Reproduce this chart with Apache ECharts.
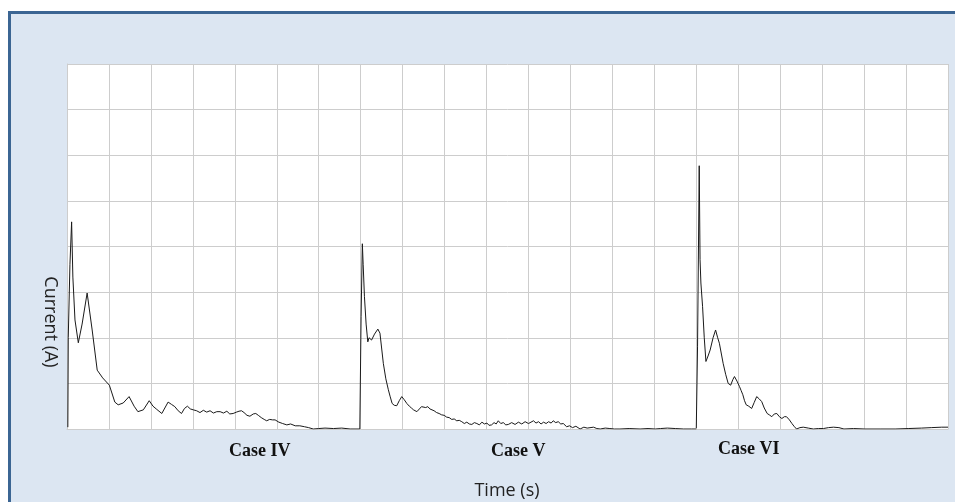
<!DOCTYPE html>
<html>
<head>
<meta charset="utf-8">
<script src="https://cdn.jsdelivr.net/npm/echarts@6/dist/echarts.min.js"></script>
<style>
  html, body { margin: 0; padding: 0; background: #fff; }
  #frame {
    position: absolute; left: 8px; top: 11px; width: 960px; height: 500px;
    background: #dce6f2; border-left: 3px solid #3b6593; border-top: 3px solid #3b6593;
  }
  #main { position: absolute; left: 0; top: 0; width: 955px; height: 502px; }
</style>
</head>
<body>
<div id="frame"></div>
<div id="main"></div>
<script>
// time (grid units) / current pairs
var caseIV = [
  [0.02,0.04],[0.03,2.0],[0.07,3.6],[0.11,4.54],[0.14,3.33],[0.19,2.39],[0.27,1.89],[0.36,2.3],
  [0.48,2.98],[0.60,2.17],[0.72,1.29],[0.85,1.12],[1.01,0.96],[1.14,0.59],[1.22,0.53],[1.34,0.57],
  [1.48,0.71],[1.60,0.50],[1.69,0.38],[1.82,0.42],[1.96,0.62],[2.05,0.50],[2.14,0.43],[2.26,0.34],
  [2.41,0.59],[2.49,0.54],[2.57,0.49],[2.65,0.40],[2.73,0.34],[2.80,0.45],[2.87,0.50],[2.94,0.44],
  [3.01,0.42],[3.09,0.40],[3.17,0.36],[3.25,0.41],[3.33,0.37],[3.41,0.40],[3.49,0.35],[3.57,0.38],
  [3.65,0.38],[3.73,0.35],[3.81,0.39],[3.88,0.33],[3.96,0.34],[4.04,0.37],[4.10,0.39],[4.16,0.40],
  [4.22,0.36],[4.29,0.30],[4.36,0.28],[4.44,0.33],[4.50,0.34],[4.56,0.30],[4.63,0.25],[4.70,0.21],
  [4.76,0.18],[4.83,0.21],[4.90,0.20],[4.96,0.20],[5.05,0.15],[5.14,0.12],[5.24,0.09],[5.33,0.11],
  [5.44,0.07],[5.55,0.07],[5.66,0.05],[5.76,0.03],[5.87,0.0],[6.00,0.01],[6.15,0.02],[6.35,0.01],
  [6.55,0.02],[6.75,0.0],[6.98,0.0]
];
var caseV = [
  [6.98,0.0],[7.00,0.0],[7.01,2.46],[7.04,4.06],[7.06,3.6],[7.09,2.90],[7.13,2.3],[7.17,1.91],
  [7.20,2.0],[7.22,2.02],[7.26,1.95],[7.30,1.99],[7.33,2.08],[7.36,2.06],[7.41,2.19],[7.46,2.10],
  [7.54,1.44],[7.60,1.1],[7.66,0.86],[7.70,0.72],[7.75,0.56],[7.80,0.52],[7.86,0.51],[7.92,0.62],
  [7.98,0.71],[8.04,0.64],[8.10,0.56],[8.16,0.50],[8.21,0.46],[8.26,0.42],[8.30,0.44],[8.34,0.38],
  [8.40,0.44],[8.45,0.49],[8.49,0.51],[8.55,0.47],[8.60,0.49],[8.65,0.44],[8.69,0.42],[8.75,0.40],
  [8.81,0.36],[8.87,0.34],[8.93,0.31],[8.99,0.30],[9.05,0.26],[9.11,0.25],[9.17,0.21],[9.23,0.22],
  [9.29,0.18],[9.35,0.19],[9.41,0.16],[9.47,0.12],[9.53,0.15],[9.59,0.11],[9.65,0.10],[9.71,0.14],
  [9.77,0.12],[9.83,0.09],[9.89,0.15],[9.95,0.11],[10.01,0.13],[10.06,0.08],[10.12,0.09],[10.18,0.14],
  [10.23,0.11],[10.28,0.18],[10.34,0.12],[10.40,0.14],[10.46,0.09],[10.52,0.10],[10.60,0.14],[10.68,0.10],
  [10.76,0.15],[10.84,0.11],[10.92,0.16],[11.00,0.12],[11.06,0.15],[11.12,0.18],[11.18,0.13],[11.24,0.16],
  [11.30,0.11],[11.36,0.15],[11.42,0.12],[11.48,0.16],[11.54,0.13],[11.59,0.18],[11.65,0.14],[11.71,0.16],
  [11.77,0.11],[11.83,0.12],[11.91,0.05],[11.98,0.07],[12.05,0.03],[12.13,0.06],[12.23,0.0],[12.32,0.04],
  [12.40,0.02],[12.55,0.04],[12.63,0.01],[12.71,0.0],[12.83,0.02],[12.94,0.01],[13.05,0.0],[13.18,0.0],
  [13.40,0.01],[13.66,0.0],[13.85,0.01],[14.02,0.0],[14.15,0.01],[14.31,0.02],[14.50,0.01],[14.70,0.0],
  [14.89,0.0],[15.00,0.0]
];
var caseVI = [
  [15.00,0.02],[15.02,0.03],[15.03,1.80],[15.07,5.77],[15.09,3.71],[15.11,3.20],[15.15,2.68],[15.19,2.0],
  [15.23,1.48],[15.28,1.60],[15.33,1.73],[15.40,2.0],[15.46,2.17],[15.51,2.0],[15.55,1.88],[15.64,1.44],
  [15.70,1.2],[15.76,1.0],[15.82,0.96],[15.87,1.08],[15.91,1.15],[15.97,1.05],[16.03,0.93],[16.07,0.84],
  [16.11,0.75],[16.15,0.62],[16.19,0.53],[16.25,0.50],[16.32,0.45],[16.38,0.58],[16.44,0.71],[16.50,0.66],
  [16.56,0.60],[16.62,0.46],[16.69,0.34],[16.74,0.31],[16.80,0.27],[16.86,0.33],[16.92,0.34],[16.98,0.27],
  [17.04,0.23],[17.10,0.27],[17.15,0.27],[17.22,0.20],[17.28,0.12],[17.33,0.06],[17.39,0.0],[17.47,0.03],
  [17.55,0.04],[17.67,0.02],[17.79,0.0],[17.91,0.01],[18.03,0.01],[18.15,0.03],[18.27,0.04],[18.40,0.03],
  [18.52,0.0],[18.75,0.01],[19.02,0.0],[19.40,0.0],[19.74,0.0],[20.05,0.01],[20.37,0.02],[20.60,0.03],
  [20.85,0.04],[21.00,0.04]
];
var caseLabels = ['Case IV', 'Case V', 'Case VI'];

var chart = echarts.init(document.getElementById('main'));
var gridColor = '#cdcdcd';

function trace(name, data) {
  return {
    name: name, type: 'line', data: data, symbol: 'none', animation: false,
    lineStyle: { color: '#1a1a1a', width: 1 }
  };
}

function caseText(x, y, label) {
  return {
    type: 'text', left: x, top: y,
    style: { text: label, font: 'bold 18px "Liberation Serif", serif', fill: '#111' }
  };
}

chart.setOption({
  backgroundColor: 'transparent',
  grid: {
    left: 67, top: 64, width: 881, height: 365, outerBoundsMode: 'none',
    show: true, backgroundColor: '#fff', borderWidth: 0
  },
  xAxis: {
    type: 'value', min: 0, max: 21, interval: 1,
    axisLine: { show: true, lineStyle: { color: gridColor } },
    axisTick: { show: false }, axisLabel: { show: false },
    splitLine: { show: true, lineStyle: { color: gridColor, width: 1 } }
  },
  yAxis: {
    type: 'value', min: 0, max: 8, interval: 1,
    axisLine: { show: true, lineStyle: { color: gridColor } },
    axisTick: { show: false }, axisLabel: { show: false },
    splitLine: { show: true, lineStyle: { color: gridColor, width: 1 } }
  },
  graphic: [
    {
      type: 'text', x: 50, y: 322, rotation: -Math.PI / 2,
      style: {
        text: 'Current (A)', font: '18px "Open Sans"', fill: '#222',
        align: 'center', verticalAlign: 'middle'
      }
    },
    {
      type: 'text', x: 507, y: 491,
      style: {
        text: 'Time (s)', font: '18px "Open Sans"', fill: '#222',
        align: 'center', verticalAlign: 'middle'
      }
    },
    caseText(229, 442, caseLabels[0]),
    caseText(491, 442, caseLabels[1]),
    caseText(718, 440, caseLabels[2])
  ],
  series: [trace('Case IV', caseIV), trace('Case V', caseV), trace('Case VI', caseVI)]
});
</script>
</body>
</html>
